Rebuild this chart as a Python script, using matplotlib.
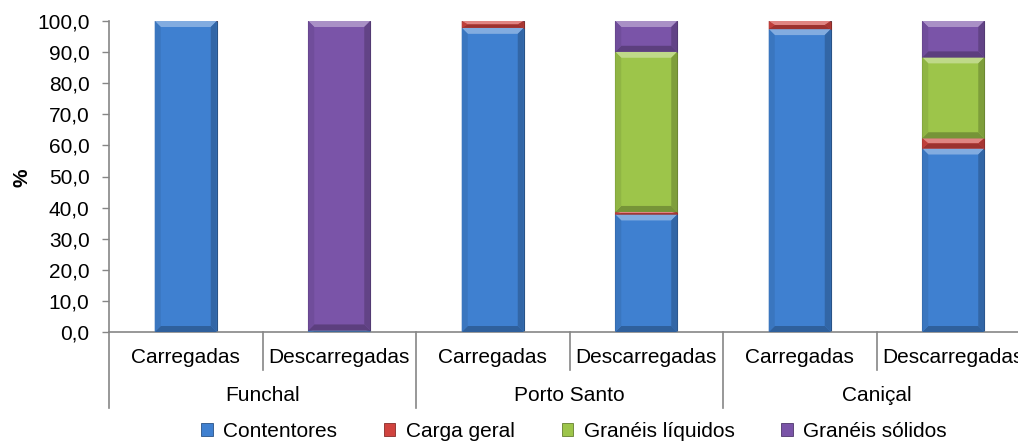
import matplotlib
matplotlib.use("Agg")
import matplotlib.pyplot as plt
from matplotlib.patches import Patch, Polygon
import matplotlib.colors as mcolors
import numpy as np

plt.rcParams['font.family'] = ['Liberation Sans', 'DejaVu Sans']

# ---------------- data ----------------
groups = ["Funchal", "Porto Santo", "Caniçal"]
subcats = ["Carregadas", "Descarregadas"]
series_names = ["Contentores", "Carga geral", "Granéis líquidos", "Granéis sólidos"]
contentores = [100.0, 0.5, 97.8, 37.8, 97.4, 59.0]
carga_geral = [0.0, 0.0, 2.2, 0.8, 2.6, 3.3]
graneis_liquidos = [0.0, 0.0, 0.0, 51.5, 0.0, 26.0]
graneis_solidos = [0.0, 99.5, 0.0, 9.9, 0.0, 11.7]
yticks = [0, 10, 20, 30, 40, 50, 60, 70, 80, 90, 100]

colors = ["#3F80D0", "#D0433F", "#9DC54A", "#7A54A8"]
series = [contentores, carga_geral, graneis_liquidos, graneis_solidos]

W, H = 1018, 441
fig = plt.figure(figsize=(W / 100, H / 100), dpi=100)
ax = fig.add_axes([109 / W, (H - 332) / H, 921 / W, 311 / H])

n = len(contentores)
x = np.arange(n) + 0.5
bar_w = 0.404
bottom = np.zeros(n)

def mix(c, other, t):
    a = np.array(mcolors.to_rgb(c))
    b = np.array(mcolors.to_rgb(other))
    return tuple(a * (1 - t) + b * t)

# px -> data conversions for bevel
px_x = 6 / 153.5
px_y = 6 / 3.11

for vals, col in zip(series, colors):
    vals = np.array(vals)
    bars = ax.bar(x, vals, bar_w, bottom=bottom, color=col,
                  edgecolor=mix(col, 'black', 0.35), linewidth=0.8, zorder=2)
    for p in bars:
        h = p.get_height()
        if h <= 0:
            continue
        x0, y0 = p.get_x(), p.get_y()
        x1, y1 = x0 + p.get_width(), y0 + h
        by = min(px_y, h / 2.0)
        bx = px_x
        top = Polygon([(x0, y1), (x1, y1), (x1 - bx, y1 - by), (x0 + bx, y1 - by)],
                      closed=True, facecolor=mix(col, 'white', 0.35), edgecolor='none', zorder=3)
        bot = Polygon([(x0, y0), (x1, y0), (x1 - bx, y0 + by), (x0 + bx, y0 + by)],
                      closed=True, facecolor=mix(col, 'black', 0.25), edgecolor='none', zorder=3)
        lft = Polygon([(x0, y0), (x0, y1), (x0 + bx, y1 - by), (x0 + bx, y0 + by)],
                      closed=True, facecolor=mix(col, 'black', 0.08), edgecolor='none', zorder=3)
        rgt = Polygon([(x1, y0), (x1, y1), (x1 - bx, y1 - by), (x1 - bx, y0 + by)],
                      closed=True, facecolor=mix(col, 'black', 0.2), edgecolor='none', zorder=3)
        for poly in (top, bot, lft, rgt):
            ax.add_patch(poly)
    bottom = bottom + vals

ax.set_xlim(0, n)
ax.set_ylim(0, 100)
ax.set_yticks(yticks)
ax.set_yticklabels([f"{v:.1f}".replace('.', ',') for v in yticks], fontsize=15)
ax.set_xticks([])
ax.tick_params(axis='y', direction='out', length=5, width=1, color='#868686', pad=9)

for s in ['top', 'right']:
    ax.spines[s].set_visible(False)
for s in ['left', 'bottom']:
    ax.spines[s].set_color('#868686')
    ax.spines[s].set_linewidth(1.2)

trans = ax.get_xaxis_transform()
# separators below axis
for i in range(n + 1):
    ybot = -0.2444 if i % 2 == 0 else -0.1222
    ax.plot([i, i], [0, ybot], color='#868686', lw=1.2, transform=trans, clip_on=False)

for i in range(n):
    ax.text(x[i], -0.0804, subcats[i % 2], transform=trans, ha='center', va='center', fontsize=15)
for g, name in enumerate(groups):
    ax.text(2 * g + 1, -0.2026, name, transform=trans, ha='center', va='center', fontsize=15)

fig.text(22 / W, (H - 178) / H, '%', rotation=90, ha='center', va='center',
         fontsize=15, fontweight='bold')

handles = [Patch(facecolor=c, edgecolor=mix(c, 'black', 0.35), linewidth=0.6) for c in colors]
fig.legend(handles, series_names, loc='center', bbox_to_anchor=(574 / W, (H - 431.5) / H),
           ncol=4, frameon=False, fontsize=15, handlelength=0.55, handleheight=0.55,
           handletextpad=0.5, columnspacing=2.25, borderaxespad=0, borderpad=0)

fig.savefig("out.png", dpi=100)
